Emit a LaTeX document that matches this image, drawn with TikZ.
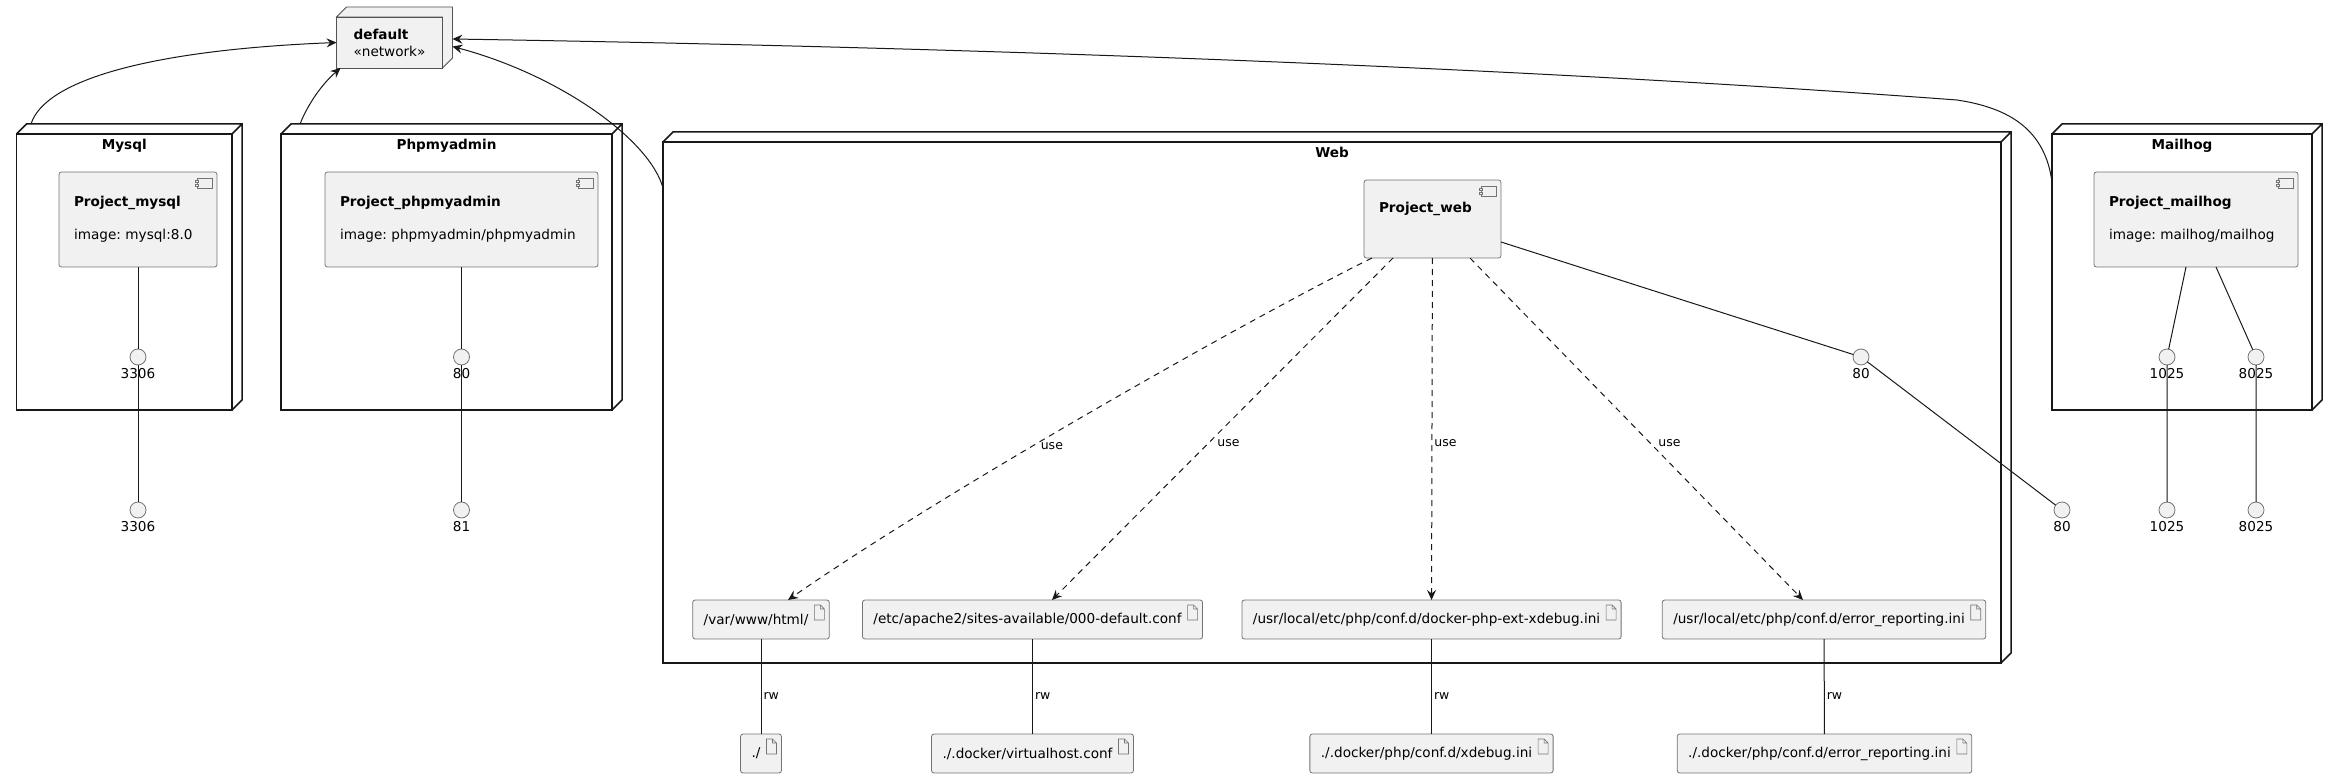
\documentclass[tikz,border=0pt]{standalone}
\usepackage{fontspec}
\setmainfont{DejaVu Sans}
\usetikzlibrary{calc,arrows.meta}
\frenchspacing

\definecolor{boxfill}{HTML}{F1F1F1}
\definecolor{ink}{HTML}{181818}

\tikzset{
  container/.style={draw=ink, line width=1.5pt, anchor=north west, inner sep=0pt, outer sep=0pt},
  boxtitle/.style={font=\fontsize{13.6}{17}\selectfont\bfseries, anchor=north, yshift=-2pt},
  network/.style={draw=ink!75, line width=0.8pt, fill=boxfill, align=left, inner xsep=17pt, inner ysep=0pt,
    minimum height=51pt, outer sep=0pt},
  component/.style={draw=ink!60, line width=0.8pt, fill=boxfill, rounded corners=2.5pt, anchor=north west,
    align=left, inner xsep=15pt, inner ysep=0pt, outer sep=0pt,
    path picture={
      \draw[sharp corners, line width=0.6pt] ($(path picture bounding box.north east)+(-20,6)$) rectangle ++(15,10);
      \draw[sharp corners, line width=0.6pt, fill=boxfill]
        ($(path picture bounding box.north east)+(-21.5,8.5)$) rectangle ++(3,2)
        ($(path picture bounding box.north east)+(-21.5,12)$) rectangle ++(3,2);
    }},
  artifact/.style={draw=ink!60, line width=0.8pt, fill=boxfill, rounded corners=2.5pt, minimum height=39pt,
    inner xsep=0pt, outer sep=0pt,
    execute at begin node=\hspace*{11pt}, execute at end node=\hspace*{21pt},
    path picture={
      \draw[sharp corners, line width=0.6pt]
        ($(path picture bounding box.north east)+(-15,5)$) -- ++(6,0) -- ++(4,4) -- ++(0,11) -- ++(-10,0) -- cycle
        ($(path picture bounding box.north east)+(-9,5)$) -- ++(0,4) -- ++(4,0);
    }},
  port/.style={circle, draw=ink!60, line width=0.8pt, fill=boxfill, minimum size=16pt, inner sep=0pt,
    outer sep=0pt, label distance=7pt},
  link/.style={draw=ink, line width=1pt},
  tonet/.style={link, -{Stealth[length=10pt,width=9pt,inset=3.5pt]}},
  uses/.style={link, dash pattern=on 6pt off 5pt, -{Stealth[length=10pt,width=9pt,inset=3.5pt]}},
  small/.style={font=\fontsize{12.5}{15}\selectfont, inner sep=2pt}
}

\begin{document}
\begin{tikzpicture}[x=1pt, y=-1pt, font=\fontsize{13.6}{17}\selectfont]
  \useasboundingbox (0,0) rectangle (2338,778);

  % containers
  \node[container, minimum width=215.5pt, minimum height=276pt, label={[boxtitle]north:Mysql}] (mysql) at (16.5,134) {};
  \node[container, minimum width=331pt, minimum height=276pt, label={[boxtitle]north:Phpmyadmin}] (pma) at (281,134) {};
  \node[container, minimum width=1338pt, minimum height=521pt, label={[boxtitle]north:Web}] (web) at (663,142) {};
  \node[container, minimum width=260pt, minimum height=276pt, label={[boxtitle]north:Mailhog}] (mailhog) at (2052,134) {};
  \foreach \n in {mysql,pma,web,mailhog}
    \draw[ink, line width=1.5pt] (\n.north west) -- ++(10,-10) -- ($(\n.north east)+(10,-10)$)
      -- ($(\n.south east)+(10,-10)$) -- (\n.south east) (\n.north east) -- ++(10,-10);

  % network
  \node[network] (net) at (389.5,42.5) {\textbf{default}\\«network»};
  \draw[draw=ink!75, line width=0.8pt, fill=boxfill] (net.north west) -- ++(10,-10) -- ($(net.north east)+(10,-10)$)
    -- ($(net.south east)+(10,-10)$) -- (net.south east) -- (net.north east) -- cycle;

  % components
  \node[component, text width=128pt, minimum height=95pt] (cmysql) at (59,172)
    {\textbf{Project\_mysql}\\[16pt]image: mysql:8.0};
  \node[component, text width=243pt, minimum height=95pt] (cpma) at (325,172)
    {\textbf{Project\_phpmyadmin}\\[16pt]image: phpmyadmin/phpmyadmin};
  \node[component, text width=107pt, minimum height=78pt] (cweb) at (1364,180)
    {\textbf{Project\_web}\\[6pt]\mbox{}};
  \node[component, text width=174pt, minimum height=95pt] (cmail) at (2094,172)
    {\textbf{Project\_mailhog}\\[16pt]image: mailhog/mailhog};

  % ports
  \foreach \name/\x/\num in {i3306/138/3306, i80p/461.5/80, i80w/1861/80, i1025/2167/1025, i8025/2256/8025}
    \node[port, label=below:\num] (\name) at (\x,357) {};
  \foreach \name/\x/\num in {e3306/138/3306, e81/461.5/81, e80/2062/80, e1025/2167/1025, e8025/2256/8025}
    \node[port, label=below:\num] (\name) at (\x,510) {};

  % files in the container
  \node[artifact] (fvar) at (761,619.5) {/var/www/html/};
  \node[artifact] (fapache) at (1032.5,619.5) {/etc/apache2/sites-available/000-default.conf};
  \node[artifact] (fxdebug) at (1431.5,619.5) {/usr/local/etc/php/conf.d/docker-php-ext-xdebug.ini};
  \node[artifact] (ferror) at (1824,619.5) {/usr/local/etc/php/conf.d/error\_reporting.ini};
  % files on the host
  \node[artifact] (hroot) at (761,753.5) {./};
  \node[artifact] (hvhost) at (1032.5,753.5) {./.docker/virtualhost.conf};
  \node[artifact] (hxdebug) at (1431.5,753.5) {./.docker/php/conf.d/xdebug.ini};
  \node[artifact] (herror) at (1824.5,753.5) {./.docker/php/conf.d/error\_reporting.ini};

  % links to the network
  \draw[tonet] ($(mysql.north west)+(14.5,-10)$) .. controls (45,80) and (150,50) .. (net.west);
  \draw[tonet] ($(pma.north west)+(19,-10)$) .. controls (308,104) and (322,84) .. ($(net.south west)+(4,0)$);
  \draw[tonet] ($(web.north west)+(0,46)$) .. controls (650,140) and (560,75) .. ($(net.east)+(10,4)$);
  \draw[tonet] ($(mailhog.north west)+(0,48)$) .. controls (2045,130) and (2010,108) .. (1957,100)
    .. controls (1500,66) and (952,47) .. ($(net.east)+(10,-3.5)$);

  % ports
  \draw[link] (cmysql) -- (i3306) -- (e3306);
  \draw[link] (cpma) -- (i80p) -- (e81);
  \draw[link] ($(cweb.south east)+(0,-16)$) -- (i80w) -- (e80);
  \draw[link] ($(cmail.south)+(-10,0)$) -- (i1025) -- (e1025);
  \draw[link] ($(cmail.south)+(20,0)$) -- (i8025) -- (e8025);

  % volumes
  \draw[uses] ($(cweb.south)+(-60.5,0)$) .. controls (1264,311) and (952,486) .. ($(fvar.north)+(27,0)$)
    node[small, pos=0.6, anchor=west, xshift=5pt] {use};
  \draw[uses] ($(cweb.south)+(-39.5,0)$) -- ($(fapache.north)+(19.5,0)$) node[small, pos=0.54, anchor=west, xshift=6pt] {use};
  \draw[uses] (cweb) -- (fxdebug) node[small, pos=0.54, anchor=west] {use};
  \draw[uses] ($(cweb.south)+(37.5,0)$) -- ($(ferror.north)+(-21,0)$) node[small, pos=0.54, anchor=west, xshift=6pt] {use};
  \foreach \a/\b in {fvar/hroot, fapache/hvhost, fxdebug/hxdebug, ferror/herror}
    \draw[link] (\a) -- (\b) node[small, pos=0.6, anchor=west] {rw};
\end{tikzpicture}
\end{document}
